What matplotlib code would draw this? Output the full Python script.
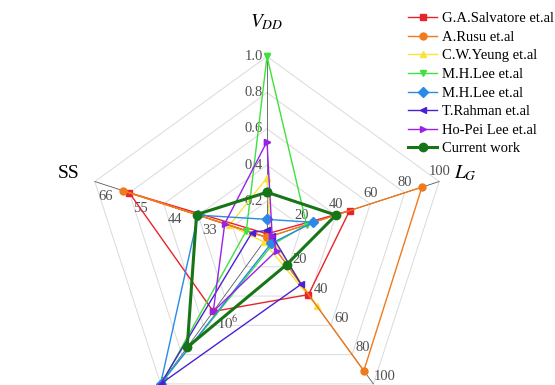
import numpy as np
import matplotlib.pyplot as plt

plt.rcParams['font.family'] = ['Liberation Serif', 'DejaVu Serif']
plt.rcParams['mathtext.fontset'] = 'stix'

# radar axes, clockwise from the top
axis_titles = ['$V_{DD}$', '$L_G$', '', '', 'SS']
axis_angles = [90, 18, -54, -126, 162]
axis_min = [0.0, 0, 0, 0, 11]
axis_max = [1.0, 100, 100, 10, 66]

series_names = ['G.A.Salvatore et.al', 'A.Rusu et.al', 'C.W.Yeung et.al',
                'M.H.Lee et.al', 'M.H.Lee et.al', 'T.Rahman et.al',
                'Ho-Pei Lee et.al', 'Current work']
colors = ['#e8232b', '#f07a1c', '#f7e43a', '#3fe03f', '#2a8ae6',
          '#4a20d6', '#9a22e8', '#177517']
markers = ['s', 'o', '^', 'v', 'D', '<', '>', 'o']
draw_order = [2, 0, 1, 3, 4, 5, 6, 7]   # yellow sits under the others

vdd = [0.02, 0.0, 0.33, 1.0, 0.10, 0.04, 0.53, 0.25]
lg = [48, 90, 2, 23, 27, 3, 3, 40]
third = [39, 91, 47, 5, 4, 32, 9, 18.5]
on_off_exp = [5.05, 0, 0.3, 9.7, 10, 10, 5.05, 7.5]   # log10(Ion/Ioff)
ss = [55, 57, 23, 17.6, 33, 15.8, 24.5, 33.5]

vdd_ticks = ['0.2', '0.4', '0.6', '0.8', '1.0']
lg_ticks = ['20', '40', '60', '80', '100']
third_ticks = ['20', '40', '60', '80', '100']
on_off_ticks = ['', '', '$10^6$', '', '']
ss_ticks = ['', '33', '44', '55', '66']

fig = plt.figure(figsize=(5.55, 3.85), dpi=100)
ax = fig.add_axes([0, 0, 1, 1])
ax.set_xlim(-1.475, 1.591)
ax.set_ylim(-0.815, 1.312)
ax.axis('off')

ang = np.deg2rad(axis_angles)
closed = np.r_[ang, ang[0]]

# grid rings and spokes
for k in range(1, 6):
    r = k / 5
    ax.plot(r * np.cos(closed), r * np.sin(closed), color='#dadada', lw=0.7, zorder=1)
for a in ang:
    ax.plot([0, np.cos(a)], [0, np.sin(a)], color='#5a5a5a', lw=0.6, zorder=1)

# tick labels on each spoke
tick_sets = [vdd_ticks, lg_ticks, third_ticks, on_off_ticks, ss_ticks]
tick_offsets = [(-3, 0), (0, 7.5), (8, 5), (10, 1.5), (8, -11)]
tick_ha = ['right', 'center', 'center', 'left', 'center']
for a, labels, off, ha in zip(ang, tick_sets, tick_offsets, tick_ha):
    for k, lab in enumerate(labels):
        if not lab:
            continue
        r = (k + 1) / 5
        ax.annotate(lab, (r * np.cos(a), r * np.sin(a)), xytext=off,
                    textcoords='offset points', ha=ha, va='center',
                    fontsize=10.5, color='#505050', zorder=2)

# axis titles
title_r = [1.19, 1.15, 1.15, 1.15, 1.15]
for a, t, r in zip(ang, axis_titles, title_r):
    if t:
        ax.text(r * np.cos(a), r * np.sin(a), t, ha='center', va='center',
                fontsize=14, color='black')

# data
values = np.array([vdd, lg, third, on_off_exp, ss], dtype=float).T
mins = np.array(axis_min, dtype=float)
maxs = np.array(axis_max, dtype=float)
for z, i in enumerate(draw_order):
    name = series_names[i]
    f = (values[i] - mins) / (maxs - mins)
    f = np.r_[f, f[0]]
    current = name == 'Current work'
    ax.plot(f * np.cos(closed), f * np.sin(closed), color=colors[i],
            marker=markers[i], ms=6 if current else 5, lw=2.2 if current else 1.0,
            label=name, zorder=3 + z)

handles, labels = ax.get_legend_handles_labels()
order = [draw_order.index(i) for i in range(len(series_names))]
ax.legend([handles[j] for j in order], [labels[j] for j in order],
          loc='upper left', bbox_to_anchor=(408 / 555, 1 - 12 / 385),
          frameon=False, fontsize=10.5, handlelength=2.0, handletextpad=0.3,
          labelspacing=0.37, borderaxespad=0, borderpad=0)

fig.savefig('out.png', dpi=100)
